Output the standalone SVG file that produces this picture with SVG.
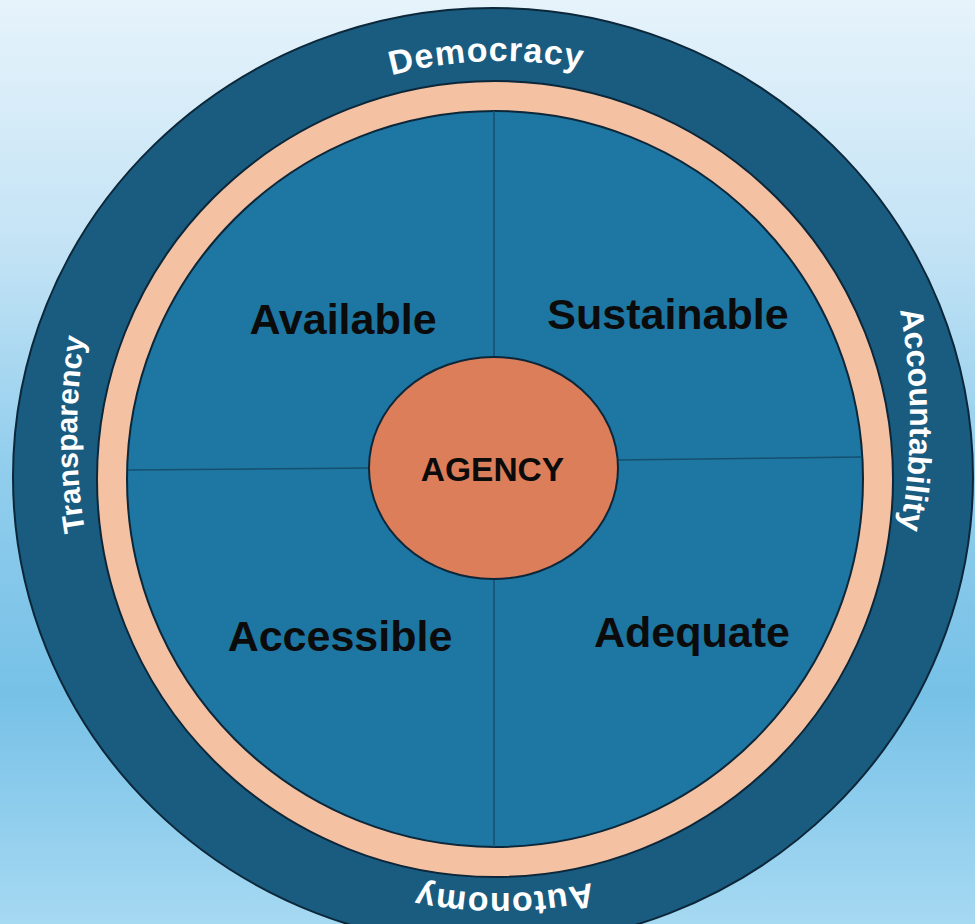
<svg xmlns="http://www.w3.org/2000/svg" xmlns:xlink="http://www.w3.org/1999/xlink" width="975" height="924" viewBox="0 0 975 924">
  <defs>
    <linearGradient id="sky" x1="0" y1="0" x2="0" y2="1">
      <stop offset="0" stop-color="#e6f3fb"/>
      <stop offset="0.27" stop-color="#c3e3f5"/>
      <stop offset="0.5" stop-color="#92ceed"/>
      <stop offset="0.75" stop-color="#77c1e7"/>
      <stop offset="1" stop-color="#a6d9f2"/>
    </linearGradient>
    <!-- clockwise circle for the top and bottom labels, starting at the bottom, wound twice so offsets can wrap -->
    <path id="ringPath" d="M 500 893 A 416 416 0 0 1 500 61 A 416 416 0 0 1 500 893 A 416 416 0 0 1 500 61 A 416 416 0 0 1 500 893"/>
    <!-- flatter arcs for the side labels -->
    <path id="leftArc" d="M 677 1034 A 600 600 0 0 1 677 -166"/>
    <path id="rightArc" d="M 310 -180 A 600 600 0 0 1 310 1020"/>
    <style>
      .edge { stroke: #0c2739; stroke-width: 2; }
      .ring-label { font-family: "Liberation Sans", Arial, sans-serif; font-weight: bold; fill: #ffffff; text-anchor: middle; }
      .pillar { font-family: "Liberation Sans", Arial, sans-serif; font-weight: bold; font-size: 43px; fill: #0b0b0b; text-anchor: middle; }
      .divider { stroke: #15506f; stroke-width: 1.5; fill: none; }
    </style>
  </defs>

  <rect id="background" x="0" y="0" width="975" height="924" fill="url(#sky)"/>

  <!-- outer principles ring -->
  <g id="principles-ring">
    <ellipse cx="493" cy="477" rx="480" ry="469" fill="#1a5c80" class="edge"/>
    <text class="ring-label" font-size="34" letter-spacing="1">
      <textPath xlink:href="#ringPath" startOffset="1293">Democracy</textPath>
    </text>
    <text class="ring-label" font-size="32">
      <textPath xlink:href="#rightArc" startOffset="942">Accountability</textPath>
    </text>
    <text class="ring-label" font-size="34" letter-spacing="1">
      <textPath xlink:href="#ringPath" startOffset="2609">Autonomy</textPath>
    </text>
    <text class="ring-label" font-size="30">
      <textPath xlink:href="#leftArc" startOffset="942">Transparency</textPath>
    </text>
  </g>

  <!-- peach band -->
  <g id="band">
    <circle cx="495" cy="479" r="398" fill="#f5c1a3" class="edge"/>
  </g>

  <!-- inner disc with the four dimensions -->
  <g id="dimensions">
    <circle cx="495" cy="479" r="368" fill="#1e76a2" class="edge"/>
  </g>

  <g id="dividers">
    <line class="divider" x1="494" y1="111" x2="494" y2="358"/>
    <line class="divider" x1="494" y1="578" x2="494" y2="847"/>
    <line class="divider" x1="128" y1="470" x2="370" y2="468"/>
    <line class="divider" x1="617" y1="460" x2="862" y2="457"/>
  </g>

  <g id="available"><text class="pillar" x="343" y="334">Available</text></g>
  <g id="sustainable"><text class="pillar" x="668" y="329">Sustainable</text></g>
  <g id="accessible"><text class="pillar" x="340" y="651">Accessible</text></g>
  <g id="adequate"><text class="pillar" x="692" y="647">Adequate</text></g>

  <!-- core -->
  <g id="agency">
    <ellipse cx="493.5" cy="468" rx="124.5" ry="111" fill="#dc7e5a" class="edge"/>
    <text x="492.5" y="481" font-family="Liberation Sans, Arial, sans-serif" font-weight="bold" font-size="33.5" fill="#0b0b0b" text-anchor="middle">AGENCY</text>
  </g>
</svg>
